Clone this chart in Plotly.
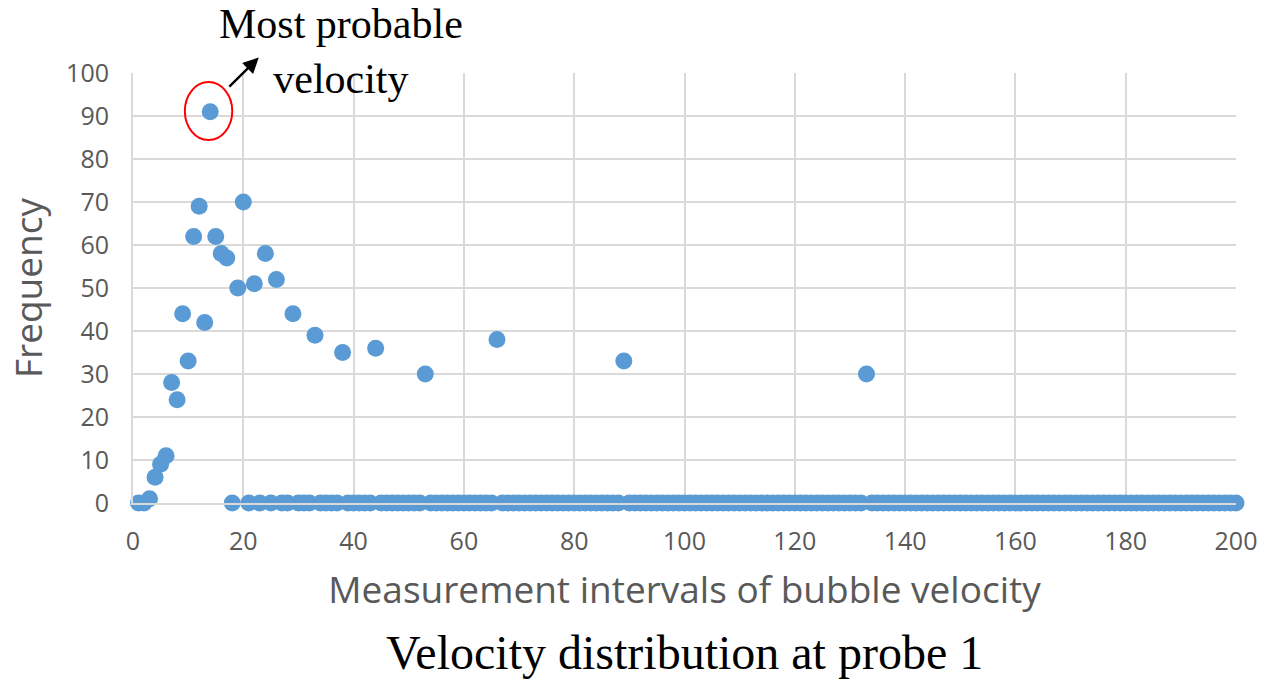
import plotly.graph_objects as go

# Measurement intervals of bubble velocity (bins 1..200)
intervals = list(range(1, 201))

# Bins with a non-zero count and their frequencies
peak_bins = [3, 4, 5, 6, 7, 8, 9, 10, 11, 12, 13, 14, 15, 16, 17, 19, 20, 22,
             24, 26, 29, 33, 38, 44, 53, 66, 89, 133]
peak_freq = [1, 6, 9, 11, 28, 24, 44, 33, 62, 69, 42, 91, 62, 58, 57, 50, 70, 51,
             58, 52, 44, 39, 35, 36, 30, 38, 33, 30]

counts = dict(zip(peak_bins, peak_freq))
frequency = [counts.get(b, 0) for b in intervals]

x_ticks = [0, 20, 40, 60, 80, 100, 120, 140, 160, 180, 200]
y_ticks = [0, 10, 20, 30, 40, 50, 60, 70, 80, 90, 100]

grid = "#d9d9d9"
label_col = "#595959"
sans = "Open Sans"
serif = "Liberation Serif"

fig = go.Figure()
fig.add_trace(go.Scatter(
    x=intervals, y=frequency, mode="markers",
    marker=dict(size=17, color="#5b9bd5"),
    cliponaxis=False, showlegend=False,
))

# Ring around the most probable velocity
peak_i = frequency.index(max(frequency))
px, py = intervals[peak_i], frequency[peak_i]
fig.add_shape(type="circle", xref="x", yref="y",
              x0=px - 4.6, x1=px + 4.0, y0=py - 6.6, y1=py + 6.9,
              line=dict(color="#ff0000", width=2))

fig.add_annotation(x=22.8, y=103.6, ax=17.2, ay=96.5, xref="x", yref="y",
                   axref="x", ayref="y", text="", showarrow=True,
                   arrowhead=2, arrowsize=1.3, arrowwidth=2.4, arrowcolor="black")

fig.add_annotation(x=0.189, y=1.0, xref="paper", yref="paper", xanchor="center",
                   yanchor="top", yshift=73, borderpad=0, showarrow=False,
                   align="center", text="Most probable<br>velocity",
                   font=dict(family=serif, size=42, color="black"))

fig.add_annotation(x=0.5, y=0, xref="paper", yref="paper", xanchor="center",
                   yanchor="top", yshift=-121, showarrow=False,
                   text="Velocity distribution at probe 1",
                   font=dict(family=serif, size=48, color="black"))

fig.update_layout(
    width=1283, height=683,
    margin=dict(l=133, r=47, t=73, b=180),
    paper_bgcolor="white", plot_bgcolor="white",
    font=dict(family=sans, color=label_col),
    xaxis=dict(range=[0, 200], tickvals=x_ticks, showgrid=True, gridcolor=grid,
               gridwidth=2, zeroline=False, showline=True, linecolor=grid,
               linewidth=2, mirror=False, ticks="", ticklabelstandoff=15,
               tickfont=dict(size=25, color=label_col),
               title=dict(text="Measurement intervals of bubble velocity",
                          font=dict(size=37, color=label_col), standoff=21)),
    yaxis=dict(range=[0, 100], tickvals=y_ticks, showgrid=True, gridcolor=grid,
               gridwidth=2, zeroline=False, showline=True, linecolor=grid,
               linewidth=2, ticks="", ticklabelstandoff=17,
               tickfont=dict(size=25, color=label_col),
               title=dict(text="Frequency", font=dict(size=37, color=label_col),
                          standoff=12)),
)

fig.write_html("out.html")
